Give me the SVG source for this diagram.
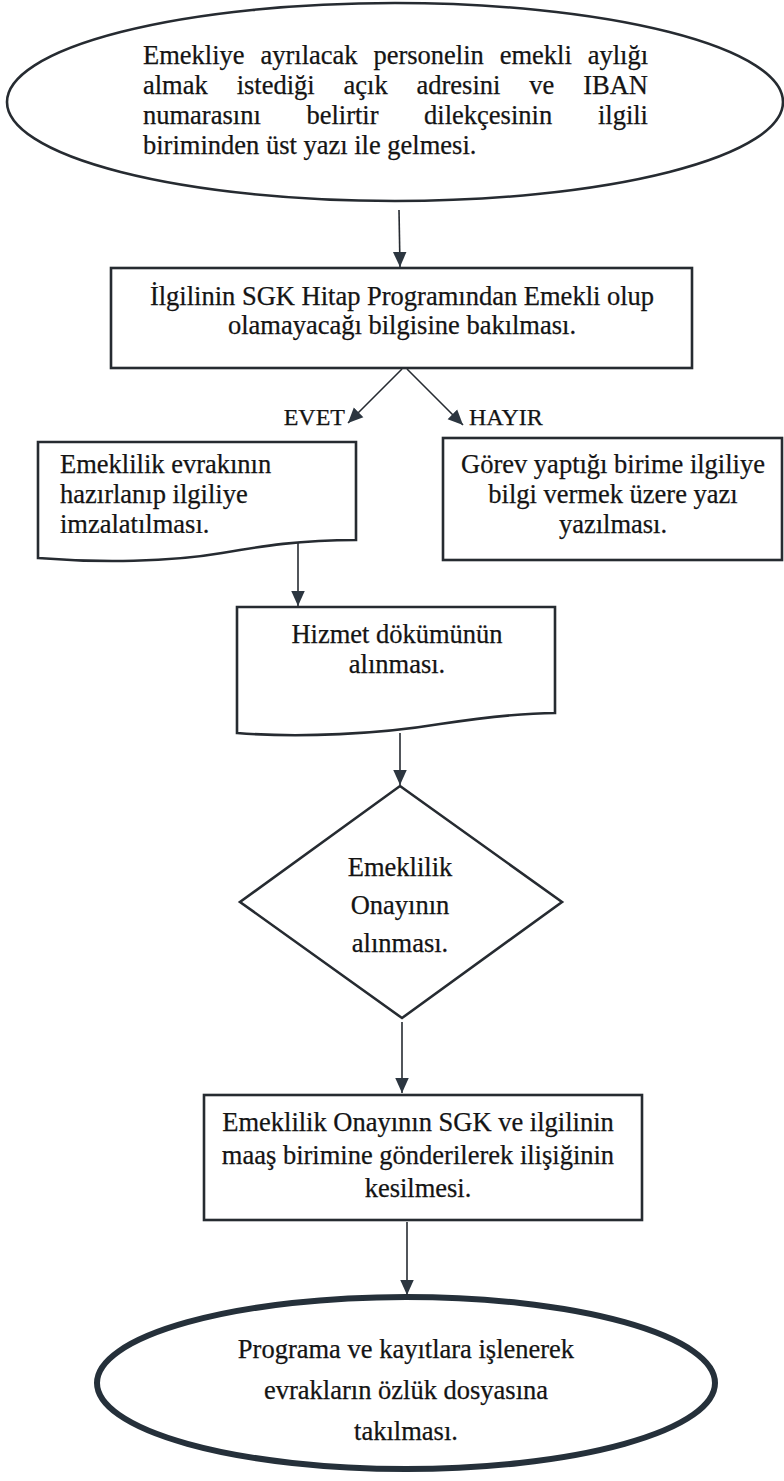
<svg xmlns="http://www.w3.org/2000/svg" width="784" height="1481" viewBox="0 0 784 1481">
<style>
text{font-family:"Liberation Serif","Times New Roman",serif;font-size:26.5px;fill:#141414;stroke:#141414;stroke-width:0.25}
.c{text-anchor:middle}
.e{text-anchor:end}
.lbl{font-size:24px}
.shape{fill:#fff;stroke:#262b31;stroke-width:2.6}
.conn line{stroke:#262b31;stroke-width:1.6}
</style>
<defs>
<marker id="ah" viewBox="0 0 10 10" refX="10" refY="5" markerWidth="15" markerHeight="15" markerUnits="userSpaceOnUse" orient="auto">
<path d="M0,0.5 L10,5 L0,9.5 z" fill="#2c3640" stroke="none"/>
</marker>
<clipPath id="docclip"><rect x="38" y="442" width="318" height="91"/></clipPath>
</defs>
<rect width="784" height="1481" fill="#fff"/>

<g id="start">
<ellipse class="shape" cx="395" cy="102" rx="388" ry="99"/>
<text x="143" y="64">Emekliye</text><text x="260.5" y="64">ayrılacak</text><text x="373.4" y="64">personelin</text><text x="499.7" y="64">emekli</text><text class="e" x="648" y="64">aylığı</text>
<text x="143" y="94">almak</text><text x="236.7" y="94">istediği</text><text x="343.5" y="94">açık</text><text x="416.5" y="94">adresini</text><text x="529.3" y="94">ve</text><text class="e" x="648" y="94">IBAN</text>
<text x="143" y="124">numarasını</text><text x="306.4" y="124">belirtir</text><text x="424.1" y="124">dilekçesinin</text><text class="e" x="648" y="124">ilgili</text>
<text x="143" y="154">biriminden üst yazı ile gelmesi.</text>
</g>

<g id="check">
<rect class="shape" x="111" y="268" width="581" height="100"/>
<text class="c" x="402" y="305">İlgilinin SGK Hitap Programından Emekli olup</text>
<text class="c" x="402" y="334">olamayacağı bilgisine bakılması.</text>
</g>

<g id="evet-doc">
<path class="shape" d="M38,442 H356 V540 C300,540 262,546 222,553 C170,562 100,563 38,558 Z"/>
<g clip-path="url(#docclip)">
<text x="60" y="473">Emeklilik evrakının</text>
<text x="60" y="503">hazırlanıp ilgiliye</text>
<text x="60" y="533">imzalatılması.</text>
</g>
</g>

<g id="hayir-box">
<rect class="shape" x="443" y="438" width="339" height="122"/>
<text class="c" x="613" y="473">Görev yaptığı birime ilgiliye</text>
<text class="c" x="613" y="503">bilgi vermek üzere yazı</text>
<text class="c" x="613" y="533">yazılması.</text>
</g>

<g id="hizmet-doc">
<path class="shape" d="M237,607 H555 V713 C520,713 480,718 440,724 C380,734 300,738 237,733 Z"/>
<text class="c" x="397" y="643">Hizmet dökümünün</text>
<text class="c" x="397" y="673">alınması.</text>
</g>

<g id="onay-decision">
<path class="shape" d="M400,786 L562,902 L402,1018 L240,902 Z"/>
<text class="c" x="400" y="876">Emeklilik</text>
<text class="c" x="400" y="914">Onayının</text>
<text class="c" x="400" y="952">alınması.</text>
</g>

<g id="send-box">
<rect class="shape" x="204" y="1095" width="438" height="125"/>
<text class="c" x="418" y="1131">Emeklilik Onayının SGK ve ilgilinin</text>
<text class="c" x="418" y="1164">maaş birimine gönderilerek ilişiğinin</text>
<text class="c" x="418" y="1197">kesilmesi.</text>
</g>

<g id="end">
<ellipse cx="406" cy="1383" rx="309" ry="86" fill="#fff" stroke="#25303a" stroke-width="6"/>
<text class="c" x="406" y="1358">Programa ve kayıtlara işlenerek</text>
<text class="c" x="406" y="1399">evrakların özlük dosyasına</text>
<text class="c" x="406" y="1440">takılması.</text>
</g>

<g id="connectors" class="conn">
<line x1="399" y1="210" x2="400" y2="267" marker-end="url(#ah)"/>
<line x1="402" y1="369" x2="348" y2="423" marker-end="url(#ah)"/>
<line x1="407" y1="369" x2="463" y2="425" marker-end="url(#ah)"/>
<line x1="298" y1="543" x2="298" y2="606" marker-end="url(#ah)"/>
<line x1="400" y1="733" x2="400" y2="785" marker-end="url(#ah)"/>
<line x1="402" y1="1022" x2="402" y2="1093" marker-end="url(#ah)"/>
<line x1="407" y1="1222" x2="407" y2="1295" marker-end="url(#ah)"/>
</g>
<text class="lbl e" x="345" y="425">EVET</text>
<text class="lbl" x="469" y="425">HAYIR</text>
</svg>
